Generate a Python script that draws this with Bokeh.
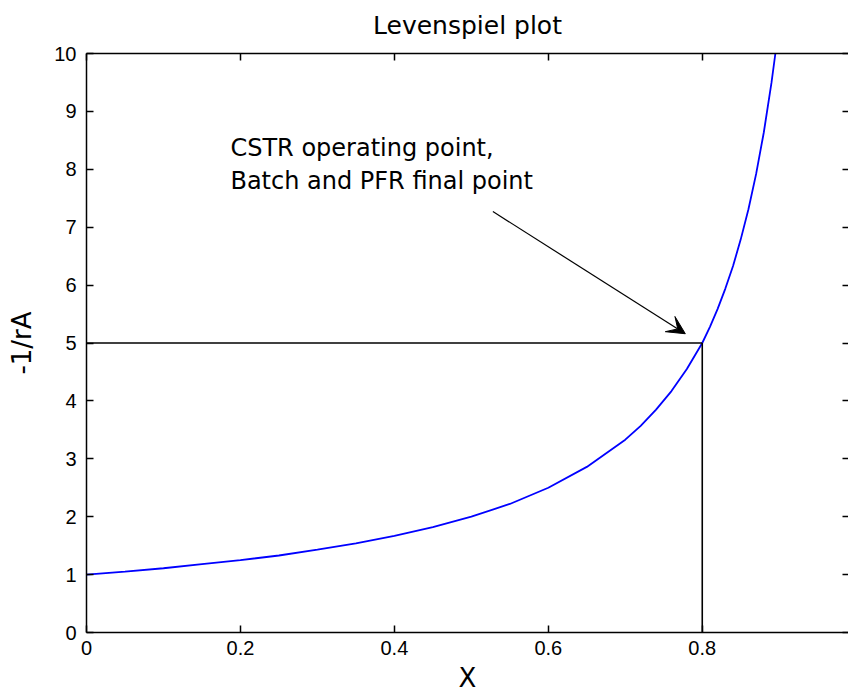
from bokeh.plotting import figure
from bokeh.models import (Range1d, FixedTicker, LinearAxis, Arrow, VeeHead, ColumnDataSource,
                          CustomLabelingPolicy)
from bokeh.core.properties import value
from bokeh.embed import file_html
from bokeh.resources import INLINE

# Curve: conversion X vs -1/rA
conversion = [0.0, 0.05, 0.1, 0.15, 0.2, 0.25, 0.3, 0.35, 0.4, 0.45, 0.5, 0.55, 0.6, 0.65,
              0.7, 0.72, 0.74, 0.76, 0.78, 0.8, 0.81, 0.82, 0.83, 0.84, 0.85, 0.86,
              0.87, 0.88, 0.89, 0.895]
inv_rate = [1.0, 1.05, 1.11, 1.18, 1.25, 1.33, 1.43, 1.54, 1.67, 1.82, 2.0, 2.22, 2.5, 2.86,
            3.33, 3.57, 3.85, 4.17, 4.55, 5.0, 5.28, 5.59, 5.94, 6.33, 6.79, 7.31,
            7.92, 8.64, 9.5, 10.0]

# Operating point
op_x = 0.8
op_y = 5.0
guide_h_x = [0.0, op_x]
guide_h_y = [op_y, op_y]
guide_v_x = [op_x, op_x]
guide_v_y = [0.0, op_y]

# Annotation
note_lines = ["CSTR operating point,", "Batch and PFR final point"]
note_x = [0.187, 0.187]
note_y = [8.376, 7.793]
arrow_start = (0.528, 7.27)
arrow_end = (0.778, 5.16)

title_text = "Levenspiel plot"
x_label = "X"
y_label = "-1/rA"

x_ticks = [0, 0.2, 0.4, 0.6, 0.8, 1.0]
y_ticks = [0, 1, 2, 3, 4, 5, 6, 7, 8, 9, 10]

W, H = 848, 696
p = figure(width=W, height=H, output_backend="svg", toolbar_location=None,
           x_range=Range1d(0, 0.99), y_range=Range1d(0, 10),
           min_border_left=86, min_border_right=0, min_border_top=53, min_border_bottom=64,
           title=None)
p.background_fill_color = "white"
p.border_fill_color = "white"
p.outline_line_color = None
p.grid.visible = False

tick_font = "Liberation Sans"
for ax in (p.xaxis[0], p.yaxis[0]):
    ax.major_tick_in = 7
    ax.major_tick_out = 0
    ax.minor_tick_line_color = None
    ax.axis_line_color = "black"
    ax.axis_line_width = 1.5
    ax.major_tick_line_color = "black"
    ax.major_tick_line_width = 1.5
    ax.major_label_text_font = tick_font
    ax.major_label_text_font_size = "20px"
    ax.major_label_text_color = "black"
    ax.axis_label_text_font = "DejaVu Sans"
    ax.axis_label_text_font_size = "26px"
    ax.axis_label_text_font_style = "normal"
    ax.axis_label_text_color = "black"

p.xaxis[0].ticker = FixedTicker(ticks=x_ticks)
p.yaxis[0].ticker = FixedTicker(ticks=y_ticks)
p.xaxis[0].axis_label = x_label
p.yaxis[0].axis_label = y_label
p.xaxis[0].major_label_standoff = 8
p.yaxis[0].major_label_standoff = 10
p.xaxis[0].axis_label_standoff = 5
p.yaxis[0].axis_label_standoff = 14

hide_all = """
for (const i of indices) {
    indices.unset(i)
}
return indices
"""

# top axis: inward ticks, no tick labels, chart title as its label
top_ax = LinearAxis(ticker=FixedTicker(ticks=x_ticks), major_label_text_font_size="0px",
                    major_label_policy=CustomLabelingPolicy(code=hide_all),
                    major_tick_in=7, major_tick_out=0, minor_tick_line_color=None,
                    axis_line_color="black", axis_line_width=1.5,
                    major_tick_line_width=1.5, major_label_standoff=0,
                    axis_label=title_text, axis_label_standoff=14,
                    axis_label_text_font="DejaVu Sans", axis_label_text_font_size="25px",
                    axis_label_text_font_style="normal", axis_label_text_color="black")
p.add_layout(top_ax, "above")

right_ax = LinearAxis(ticker=FixedTicker(ticks=y_ticks), major_label_text_font_size="0px",
                      major_label_policy=CustomLabelingPolicy(code=hide_all),
                      major_tick_in=6, major_tick_out=0, minor_tick_line_color=None,
                      axis_line_color=None, major_tick_line_width=1.5, major_label_standoff=0)
p.add_layout(right_ax, "right")

src = ColumnDataSource(dict(x=conversion, y=inv_rate))
p.line("x", "y", source=src, line_color="#0000FF", line_width=1.8)

p.line(guide_h_x, guide_h_y, line_color="black", line_width=1.6)
p.line(guide_v_x, guide_v_y, line_color="black", line_width=1.6)

p.text(x=note_x, y=note_y, text=note_lines, text_font=value("DejaVu Sans"),
       text_font_size="24px", text_color="black", text_baseline="alphabetic", text_align="left")

p.add_layout(Arrow(x_start=arrow_start[0], y_start=arrow_start[1],
                   x_end=arrow_end[0], y_end=arrow_end[1],
                   line_color="black", line_width=1.2,
                   end=VeeHead(size=18, fill_color="black", line_color="black", line_width=1)))

open("out.html", "w").write(file_html(p, INLINE))
